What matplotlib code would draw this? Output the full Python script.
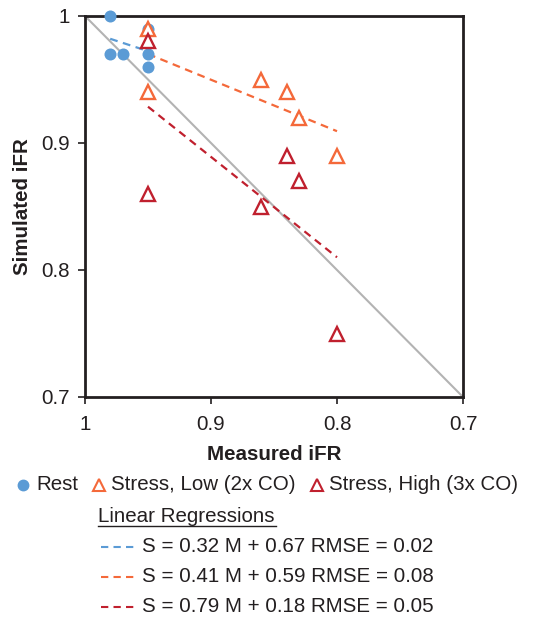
import numpy as np
import matplotlib
matplotlib.use("Agg")
import matplotlib.pyplot as plt
from matplotlib.lines import Line2D

plt.rcParams['font.family'] = ['Liberation Sans', 'DejaVu Sans']

rest_M = [0.98, 0.98, 0.97, 0.95, 0.95, 0.95]
rest_S = [1.00, 0.97, 0.97, 0.99, 0.97, 0.96]
low_M = [0.95, 0.95, 0.86, 0.84, 0.83, 0.80]
low_S = [0.99, 0.94, 0.95, 0.94, 0.92, 0.89]
high_M = [0.95, 0.95, 0.86, 0.84, 0.83, 0.80]
high_S = [0.98, 0.86, 0.85, 0.89, 0.87, 0.75]

ticks = [1.0, 0.9, 0.8, 0.7]
tick_labels = ['1', '0.9', '0.8', '0.7']
reg_labels = ['S = 0.32 M + 0.67 RMSE = 0.02',
              'S = 0.41 M + 0.59 RMSE = 0.08',
              'S = 0.79 M + 0.18 RMSE = 0.05']

c_rest = '#5b9bd5'
c_low = '#f4693a'
c_high = '#c0202e'
c_spine = '#231f20'
tc = '#231f20'

W, H = 539, 622
L, R, T, B = 85, 463, 16, 397
fig = plt.figure(figsize=(W/100, H/100), dpi=100)
ax = fig.add_axes([L/W, 1-B/H, (R-L)/W, (B-T)/H])

ax.plot([1.0, 0.7], [1.0, 0.7], color='#b3b3b3', lw=1.5, zorder=1)

dash = (0, (3.5, 2.5))
for M, S, c in [(rest_M, rest_S, c_rest), (low_M, low_S, c_low), (high_M, high_S, c_high)]:
    k, b = np.polyfit(M, S, 1)
    xs = np.array([max(M), min(M)])
    ax.plot(xs, k*xs + b, ls=dash, color=c, lw=1.6, zorder=2)

ax.scatter(rest_M, rest_S, s=75, color=c_rest, zorder=3, clip_on=False, linewidths=0)
ax.plot(low_M, low_S, ls='none', marker='^', ms=10, mfc='white', mec=c_low, mew=1.7, zorder=4)
ax.plot(high_M, high_S, ls='none', marker='^', ms=10, mfc='white', mec=c_high, mew=1.7, zorder=4)

fs = 14.8
ax.set_xlim(1.0, 0.7)
ax.set_ylim(0.7, 1.0)
ax.set_xticks(ticks)
ax.set_xticklabels(tick_labels)
ax.set_yticks(ticks)
ax.set_yticklabels(tick_labels)
ax.tick_params(direction='out', length=5, width=1.2, color=c_spine, labelsize=fs, labelcolor=tc)
ax.tick_params(axis='x', pad=8)
ax.tick_params(axis='y', pad=6)
for sp in ax.spines.values():
    sp.set_linewidth(2)
    sp.set_color(c_spine)
ax.set_xlabel('Measured iFR', fontsize=fs, fontweight='bold', color=tc)
ax.set_ylabel('Simulated iFR', fontsize=fs, fontweight='bold', color=tc)
ax.xaxis.set_label_coords((274 - L) / (R - L), -(445 - B) / (B - T))
ax.yaxis.set_label_coords(-(L - 32.5) / (R - L), 0.5)

def fx(px):
    return px / W
def fy(py):
    return 1 - py / H

y1 = 485
fig.add_artist(Line2D([fx(23)], [fy(y1)], marker='o', ms=7.5, color=c_rest, ls='none'))
fig.text(fx(36), fy(y1), 'Rest', fontsize=fs, va='center', color=tc)
fig.add_artist(Line2D([fx(99)], [fy(y1)], marker='^', ms=8.5, mfc='white', mec=c_low, mew=1.5, ls='none'))
fig.text(fx(111), fy(y1), 'Stress, Low (2x CO)', fontsize=fs, va='center', color=tc)
fig.add_artist(Line2D([fx(317)], [fy(y1)], marker='^', ms=8.5, mfc='white', mec=c_high, mew=1.5, ls='none'))
fig.text(fx(329), fy(y1), 'Stress, High (3x CO)', fontsize=fs, va='center', color=tc)

fig.text(fx(98), fy(516), 'Linear Regressions', fontsize=fs, va='center', color=tc)
fig.add_artist(Line2D([fx(98), fx(276)], [fy(526), fy(526)], color=tc, lw=1))

for i, (lab, c) in enumerate(zip(reg_labels, [c_rest, c_low, c_high])):
    yy = 547 + 30*i
    fig.add_artist(Line2D([fx(101), fx(135)], [fy(yy), fy(yy)], color=c, lw=1.5, ls=dash))
    fig.text(fx(142), fy(yy), lab, fontsize=fs, va='center', color=tc)

fig.savefig('out.png', dpi=100)
